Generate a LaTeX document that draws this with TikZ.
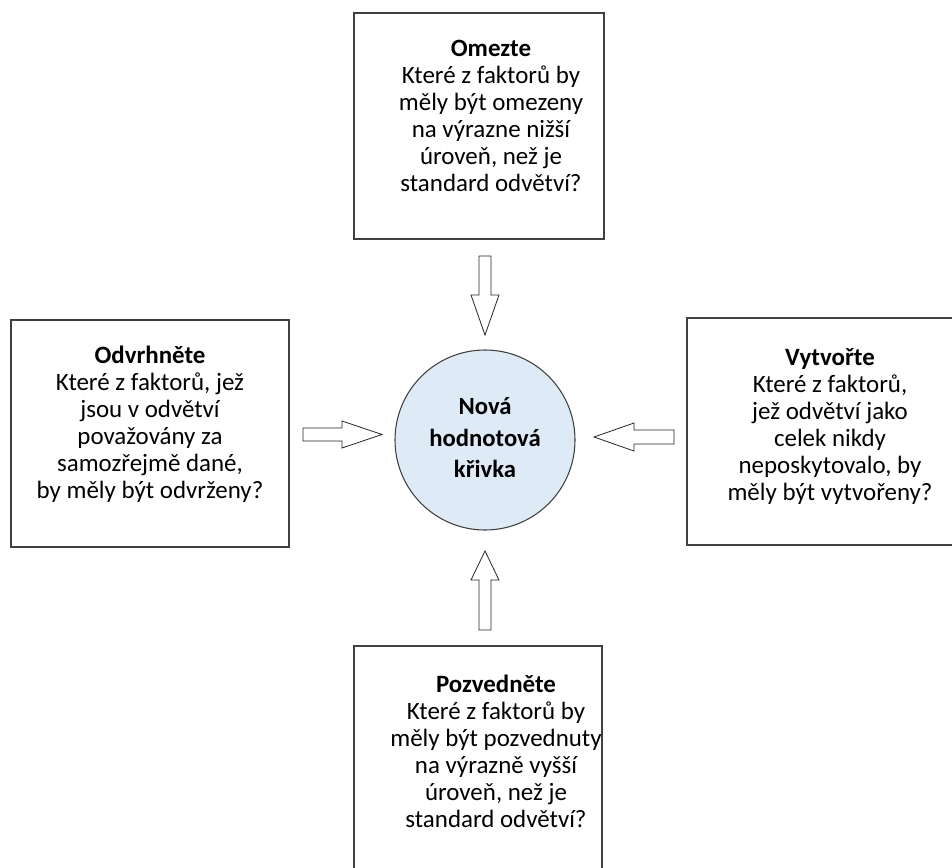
\documentclass[tikz,border=0pt]{standalone}
\usepackage{fontspec}
\setmainfont{Carlito}
\definecolor{boxline}{HTML}{404040}
\definecolor{circfill}{HTML}{DEEBF7}
\begin{document}
\begin{tikzpicture}[x=0.75pt,y=-0.75pt,
  box/.style={draw=boxline,line width=1pt},
  boxtext/.style={align=center,inner sep=0pt,font=\fontsize{18.7}{20.25}\selectfont},
  circtext/.style={align=center,inner sep=0pt,font=\fontsize{18.5}{23.6}\selectfont\bfseries},
  blockarrow/.style={draw=black!85,fill=white,line width=0.6pt,line join=miter}]
\clip (0,0) rectangle (952,867);
\fill[white] (0,0) rectangle (952,867);
% boxes
\draw[box] (354,13) rectangle (604,239);
\draw[box] (11,320) rectangle (289,547);
\draw[box] (687,318) rectangle (980,545);
\draw[box] (354,646) rectangle (602,890);
% texts
\node[boxtext] (ttop) at (491,116) {\textbf{Omezte}\\Které z faktorů by\\měly být omezeny\\na výrazne nižší\\úroveň, než je\\standard odvětví?};
\node[boxtext] (tleft) at (150,424) {\textbf{Odvrhněte}\\Které z faktorů, jež\\jsou v odvětví\\považovány za\\samozřejmě dané,\\by měly být odvrženy?};
\node[boxtext] (tright) at (830,426) {\textbf{Vytvořte}\\Které z faktorů,\\jež odvětví jako\\celek nikdy\\neposkytovalo, by\\měly být vytvořeny?};
\node[boxtext] (tbottom) at (496,751) {\textbf{Pozvedněte}\\Které z faktorů by\\měly být pozvednuty\\na výrazně vyšší\\úroveň, než je\\standard odvětví?};
% circle
\node[circle,draw=boxline,line width=0.8pt,fill=circfill,minimum size=135pt,inner sep=0pt] (hub) at (485,440) {};
\node[circtext] (hubtext) at (485,438) {Nová\\hodnotová\\křivka};
% arrows
\draw[blockarrow] (479,256) -- (491,256) -- (491,295) -- (499,295) -- (485,335) -- (471,295) -- (479,295) -- cycle;
\draw[blockarrow] (479,630) -- (491,630) -- (491,580) -- (499,580) -- (485,551) -- (471,580) -- (479,580) -- cycle;
\draw[blockarrow] (303,428) -- (342,428) -- (342,421) -- (382,434.5) -- (342,448) -- (342,441) -- (303,441) -- cycle;
\draw[blockarrow] (674,430) -- (634,430) -- (634,423) -- (594,437) -- (634,451) -- (634,444) -- (674,444) -- cycle;
\end{tikzpicture}
\end{document}
